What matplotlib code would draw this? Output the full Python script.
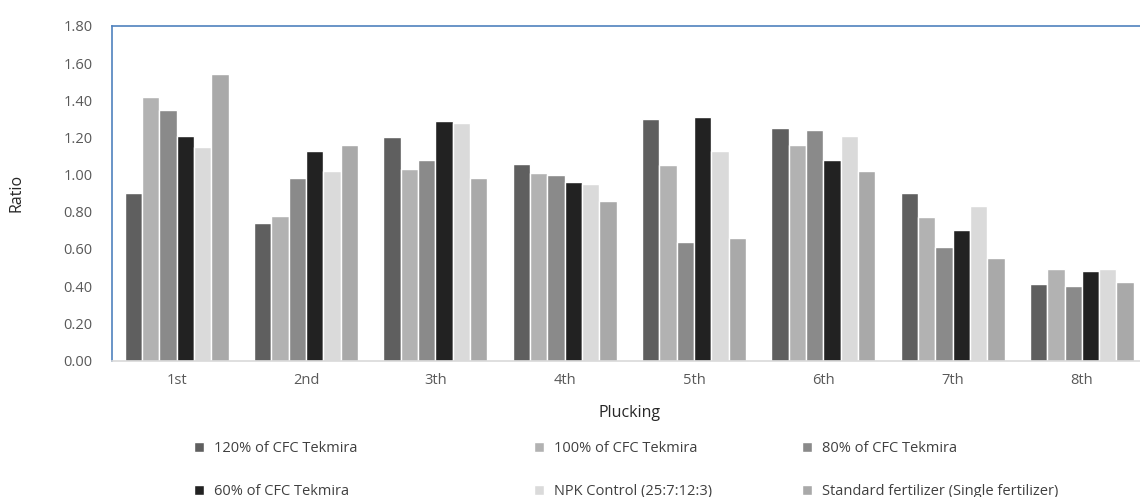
import matplotlib.pyplot as plt
import numpy as np
from matplotlib.patches import Patch

plt.rcParams['font.family'] = ['Open Sans', 'DejaVu Sans']

pluckings = ["1st", "2nd", "3th", "4th", "5th", "6th", "7th", "8th"]

cfc_120 = [0.90, 0.74, 1.20, 1.06, 1.30, 1.25, 0.90, 0.41]
cfc_100 = [1.42, 0.78, 1.03, 1.01, 1.05, 1.16, 0.77, 0.49]
cfc_80 = [1.35, 0.98, 1.08, 1.00, 0.64, 1.24, 0.61, 0.40]
cfc_60 = [1.21, 1.13, 1.29, 0.96, 1.31, 1.08, 0.70, 0.48]
npk = [1.15, 1.02, 1.28, 0.95, 1.13, 1.21, 0.83, 0.49]
standard = [1.54, 1.16, 0.98, 0.86, 0.66, 1.02, 0.55, 0.42]

series = [
    ("120% of CFC Tekmira", cfc_120, "#5f5f5f"),
    ("100% of CFC Tekmira", cfc_100, "#b2b2b2"),
    ("80% of CFC Tekmira", cfc_80, "#8a8a8a"),
    ("60% of CFC Tekmira", cfc_60, "#222222"),
    ("NPK Control (25:7:12:3)", npk, "#dadada"),
    ("Standard fertilizer (Single fertilizer)", standard, "#a9a9a9"),
]

fig = plt.figure(figsize=(11.4, 4.97), dpi=100)
ax = fig.add_axes([112 / 1140, 136.5 / 497, 1034.5 / 1140, 334.5 / 497])

x = np.arange(len(pluckings))
w = 0.134
for i, (name, vals, col) in enumerate(series):
    ax.bar(x + (i - 2.5) * w, vals, w, color=col, edgecolor="white", linewidth=1, label=name)

ax.set_xlim(-0.5, len(pluckings) - 0.5)
ax.set_ylim(0, 1.8)
ax.set_yticks(np.arange(0, 1.81, 0.2))
ax.set_yticklabels([f"{v:.2f}" for v in np.arange(0, 1.81, 0.2)])
ax.set_xticks(x)
ax.set_xticklabels(pluckings)
ax.tick_params(length=0, labelsize=10.5, colors="#595959", pad=14)
ax.tick_params(axis="x", pad=9)

for s in ["top", "left", "right"]:
    ax.spines[s].set_color("#4f81bd")
    ax.spines[s].set_linewidth(1.2)
ax.spines["bottom"].set_color("#d9d9d9")
ax.spines["bottom"].set_linewidth(1.2)

ax.set_ylabel("Ratio", fontsize=11.5, color="#262626", labelpad=28)
ax.set_xlabel("Plucking", fontsize=11.5, color="#262626", labelpad=12)

cols_x = [194 / 1140, 534 / 1140, 802 / 1140]
for c in range(3):
    hs = []
    for r in range(2):
        name, vals, col = series[r * 3 + c]
        hs.append(Patch(facecolor=col, edgecolor="white", label=name))
    fig.legend(handles=hs, loc="upper left", bbox_to_anchor=(cols_x[c], 56 / 497),
               frameon=False, fontsize=10.5, handlelength=0.7, handleheight=0.7,
               handletextpad=0.7, labelspacing=1.9, labelcolor="#404040",
               borderaxespad=0, borderpad=0)

fig.savefig("out.png", dpi=100)
